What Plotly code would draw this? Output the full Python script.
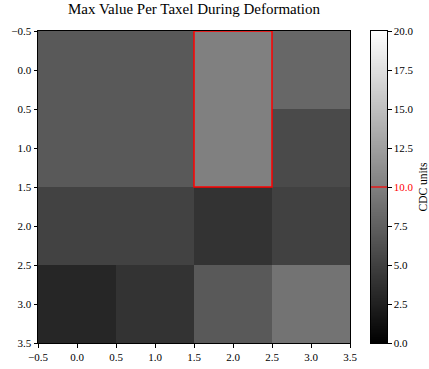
import numpy as np
import plotly.graph_objects as go

# Data
cols = [0, 1, 2, 3]
rows = [0, 1, 2, 3]
values = [
    [7.0, 7.0, 10.05, 8.1],
    [7.0, 7.0, 10.05, 5.8],
    [5.2, 5.2, 4.0, 5.1],
    [3.0, 4.0, 7.0, 9.0],
]
threshold = 10.0
zmin, zmax = 0.0, 20.0
axis_ticks = [-0.5, 0.0, 0.5, 1.0, 1.5, 2.0, 2.5, 3.0, 3.5]
cbar_ticks = [0.0, 2.5, 5.0, 7.5, 10.0, 12.5, 15.0, 17.5, 20.0]
title = "Max Value Per Taxel During Deformation"
cbar_title = "CDC units"

FONT = "Liberation Serif"
COLORSCALE = [[0, "black"], [1, "white"]]

# Layout geometry (pixels)
W, H = 429, 369
L, R, T, B = 38, 42, 31, 26
paper_w = W - L - R
main_x1 = 312 / paper_w
cb_x0 = (371 - L) / paper_w

fig = go.Figure()

# Main heatmap
fig.add_trace(go.Heatmap(
    z=values, x=cols, y=rows,
    colorscale=COLORSCALE, zmin=zmin, zmax=zmax,
    showscale=False, hoverinfo="skip",
    xaxis="x", yaxis="y",
))

# Colorbar drawn as its own small heatmap
cb_levels = np.linspace(zmin, zmax, 401)
fig.add_trace(go.Heatmap(
    z=[[v] for v in cb_levels], x=[0], y=cb_levels,
    colorscale=COLORSCALE, zmin=zmin, zmax=zmax,
    showscale=False, hoverinfo="skip",
    xaxis="x2", yaxis="y2",
))

# Highlight cells at/above threshold
hi = [(r, c) for r in rows for c in cols if values[r][c] >= threshold]
if hi:
    r0 = min(r for r, c in hi); r1 = max(r for r, c in hi)
    c0 = min(c for r, c in hi); c1 = max(c for r, c in hi)
    fig.add_shape(type="rect", xref="x", yref="y",
                  x0=c0 - 0.5, x1=c1 + 0.5, y0=r0 - 0.5, y1=r1 + 0.5,
                  line=dict(color="red", width=1.5))

# Threshold line on colorbar
fig.add_shape(type="line", xref="x2 domain", yref="y2",
              x0=0, x1=1, y0=threshold, y1=threshold,
              line=dict(color="red", width=1.2))

tickfont = dict(family=FONT, size=11, color="black")
axis_common = dict(
    tickmode="array", tickvals=axis_ticks,
    ticktext=[f"{v:.1f}".replace("-", "\u2212") for v in axis_ticks],
    ticks="outside", ticklen=3.5, tickcolor="black",
    showline=True, linecolor="black", linewidth=1, mirror=True,
    showgrid=False, zeroline=False, tickfont=tickfont,
)

cbar_text = [
    (f"<span style='color:red'>{v:.1f}</span>" if v == threshold else f"{v:.1f}")
    for v in cbar_ticks
]

fig.update_layout(
    width=W, height=H,
    margin=dict(l=L, r=R, t=T, b=B, autoexpand=False),
    paper_bgcolor="white", plot_bgcolor="white",
    xaxis=dict(domain=[0, main_x1], range=[-0.5, 3.5], anchor="y", **axis_common),
    yaxis=dict(domain=[0, 1], range=[3.5, -0.5], anchor="x", **axis_common),
    xaxis2=dict(domain=[cb_x0, 1], range=[-0.5, 0.5], anchor="y2",
                showticklabels=False, ticks="", showgrid=False, zeroline=False,
                showline=True, linecolor="black", linewidth=1, mirror=True),
    yaxis2=dict(domain=[0, 1], range=[zmin, zmax], anchor="x2", side="right",
                tickmode="array", tickvals=cbar_ticks, ticktext=cbar_text,
                ticks="outside", ticklen=3.5, tickcolor="black",
                showgrid=False, zeroline=False,
                showline=True, linecolor="black", linewidth=1, mirror=True,
                tickfont=tickfont,
                title=dict(text=cbar_title, standoff=6,
                           font=dict(family=FONT, size=11.5, color="black"))),
    title=dict(text=title, x=(L + 156) / W, xanchor="center",
               y=1 - 3 / H, yanchor="top",
               font=dict(family=FONT, size=15, color="black")),
)

fig.write_html("out.html", config={"displayModeBar": False},
               post_script="document.body.style.margin='0';")
